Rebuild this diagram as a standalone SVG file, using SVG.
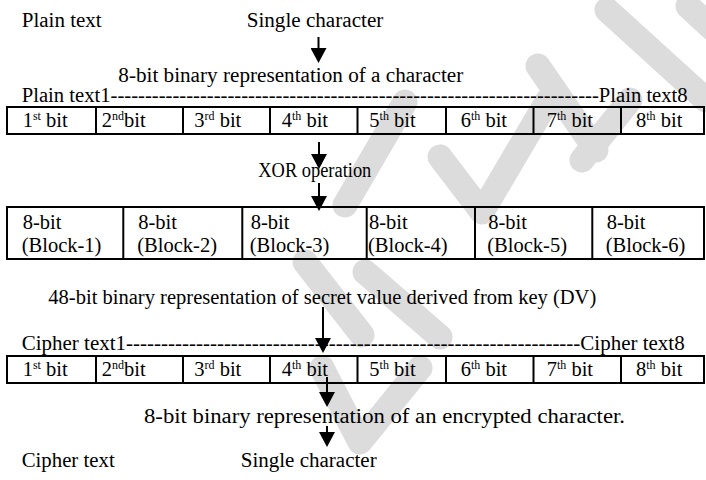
<svg xmlns="http://www.w3.org/2000/svg" width="706" height="480" viewBox="0 0 706 480">
  <style>
    .txt text { font-size: 20.5px; fill: #000; }
    .grid { fill: none; stroke: #000; stroke-width: 2; }
    .arrow { stroke: #000; stroke-width: 2; fill: none; marker-end: url(#head); }
    .mark { fill: none; stroke: #dcdcdc; stroke-width: 25; stroke-linecap: round; stroke-linejoin: round; }
  </style>
  <defs>
    <marker id="head" markerUnits="userSpaceOnUse" markerWidth="15" markerHeight="16" refX="0" refY="8" orient="auto" viewBox="0 0 15 16">
      <path d="M0,0 L15,8 L0,16 Z" fill="#000"/>
    </marker>
  </defs>

  <!-- light grey background strokes -->
  <g id="backdrop">
    <path class="mark" d="M607,10L706,100"/>
    <path class="mark" d="M688,6L716,32"/>
    <path class="mark" d="M538,66L596,150"/>
    <path class="mark" d="M440,157L482,212L548,100"/>
    <path class="mark" d="M405,102L345,205"/>
    <path class="mark" d="M582,160L630,100"/>
    <path class="mark" d="M305,262L362,335"/>
    <path class="mark" d="M365,272L440,337"/>
    <path class="mark" d="M322,368L360,442L420,368"/>
  </g>

  <g class="txt" font-family="'Liberation Serif', 'DejaVu Serif', 'Times New Roman', serif">
  <!-- top labels -->
  <g id="plain-label">
    <text x="21.7" y="27" textLength="80" lengthAdjust="spacingAndGlyphs">Plain text</text>
    <text x="246.7" y="27" textLength="136.6" lengthAdjust="spacingAndGlyphs">Single character</text>
  </g>
  <g id="plain-binary-caption">
    <text x="118.3" y="82" textLength="345" lengthAdjust="spacingAndGlyphs">8-bit binary representation of a character</text>
  </g>
  <g id="plain-range">
    <text x="21.7" y="102" textLength="666" lengthAdjust="spacingAndGlyphs">Plain text1-----------------------------------------------------------------------Plain text8</text>
  </g>

  <!-- plain text bit row -->
  <g id="plain-bits">
    <rect class="grid" x="7" y="107" width="697" height="27"/>
    <path class="grid" d="M96,107V134M183,107V134M270,107V134M357.5,107V134M446,107V134M533.5,107V134M621,107V134"/>
    <text x="22.7" y="127">1<tspan font-size="12" dy="-7">st</tspan><tspan dy="7"> bit</tspan></text>
    <text x="101.7" y="127">2<tspan font-size="12" dy="-7">nd</tspan><tspan dy="7">bit</tspan></text>
    <text x="194.3" y="127">3<tspan font-size="12" dy="-7">rd</tspan><tspan dy="7"> bit</tspan></text>
    <text x="281.7" y="127">4<tspan font-size="12" dy="-7">th</tspan><tspan dy="7"> bit</tspan></text>
    <text x="369.3" y="127">5<tspan font-size="12" dy="-7">th</tspan><tspan dy="7"> bit</tspan></text>
    <text x="460.7" y="127">6<tspan font-size="12" dy="-7">th</tspan><tspan dy="7"> bit</tspan></text>
    <text x="546.7" y="127">7<tspan font-size="12" dy="-7">th</tspan><tspan dy="7"> bit</tspan></text>
    <text x="636" y="127">8<tspan font-size="12" dy="-7">th</tspan><tspan dy="7"> bit</tspan></text>
  </g>

  <g id="xor-label">
    <text x="258.3" y="176.5" textLength="113" lengthAdjust="spacingAndGlyphs">XOR operation</text>
  </g>

  <!-- key blocks -->
  <g id="key-blocks">
    <rect class="grid" x="7" y="207" width="697" height="52"/>
    <path class="grid" d="M123.3,207V259M242.3,207V259M366.7,207V259M475,207V259M592.3,207V259"/>
    <text x="22.7" y="228.5">8-bit</text><text x="21.7" y="252">(Block-1)</text>
    <text x="138.3" y="228.5">8-bit</text><text x="137.3" y="252">(Block-2)</text>
    <text x="250.7" y="228.5">8-bit</text><text x="249.7" y="252">(Block-3)</text>
    <text x="369" y="228.5">8-bit</text><text x="368" y="252">(Block-4)</text>
    <text x="488.3" y="228.5">8-bit</text><text x="487.3" y="252">(Block-5)</text>
    <text x="606.7" y="228.5">8-bit</text><text x="605.7" y="252">(Block-6)</text>
  </g>

  <g id="key-caption">
    <text x="48.3" y="303.5" textLength="548" lengthAdjust="spacingAndGlyphs">48-bit binary representation of secret value derived from key (DV)</text>
  </g>

  <g id="cipher-range">
    <text x="21.7" y="350" textLength="663" lengthAdjust="spacingAndGlyphs">Cipher text1-----------------------------------------------------------------Cipher text8</text>
  </g>

  <!-- cipher text bit row -->
  <g id="cipher-bits">
    <rect class="grid" x="7" y="356" width="697" height="27"/>
    <path class="grid" d="M96,356V383M183,356V383M270,356V383M357.5,356V383M446,356V383M533.5,356V383M621,356V383"/>
    <text x="22.7" y="376">1<tspan font-size="12" dy="-7">st</tspan><tspan dy="7"> bit</tspan></text>
    <text x="101.7" y="376">2<tspan font-size="12" dy="-7">nd</tspan><tspan dy="7">bit</tspan></text>
    <text x="194.3" y="376">3<tspan font-size="12" dy="-7">rd</tspan><tspan dy="7"> bit</tspan></text>
    <text x="281.7" y="376">4<tspan font-size="12" dy="-7">th</tspan><tspan dy="7"> bit</tspan></text>
    <text x="369.3" y="376">5<tspan font-size="12" dy="-7">th</tspan><tspan dy="7"> bit</tspan></text>
    <text x="460.7" y="376">6<tspan font-size="12" dy="-7">th</tspan><tspan dy="7"> bit</tspan></text>
    <text x="546.7" y="376">7<tspan font-size="12" dy="-7">th</tspan><tspan dy="7"> bit</tspan></text>
    <text x="636" y="376">8<tspan font-size="12" dy="-7">th</tspan><tspan dy="7"> bit</tspan></text>
  </g>

  <g id="cipher-binary-caption">
    <text x="144" y="423" textLength="481" lengthAdjust="spacingAndGlyphs">8-bit binary representation of an encrypted character.</text>
  </g>
  <g id="cipher-label">
    <text x="21.7" y="467" textLength="93" lengthAdjust="spacingAndGlyphs">Cipher text</text>
    <text x="240.7" y="467" textLength="136" lengthAdjust="spacingAndGlyphs">Single character</text>
  </g>
  </g>

  <!-- flow arrows -->
  <g id="connectors">
    <line class="arrow" x1="318.5" y1="37" x2="318.5" y2="48"/>
    <line class="arrow" x1="319" y1="142" x2="319" y2="154"/>
    <line class="arrow" x1="319" y1="183" x2="319" y2="196"/>
    <line class="arrow" x1="323" y1="307" x2="323" y2="338"/>
    <line class="arrow" x1="327" y1="377" x2="327" y2="392"/>
    <line class="arrow" x1="327" y1="426" x2="327" y2="432"/>
  </g>
</svg>
